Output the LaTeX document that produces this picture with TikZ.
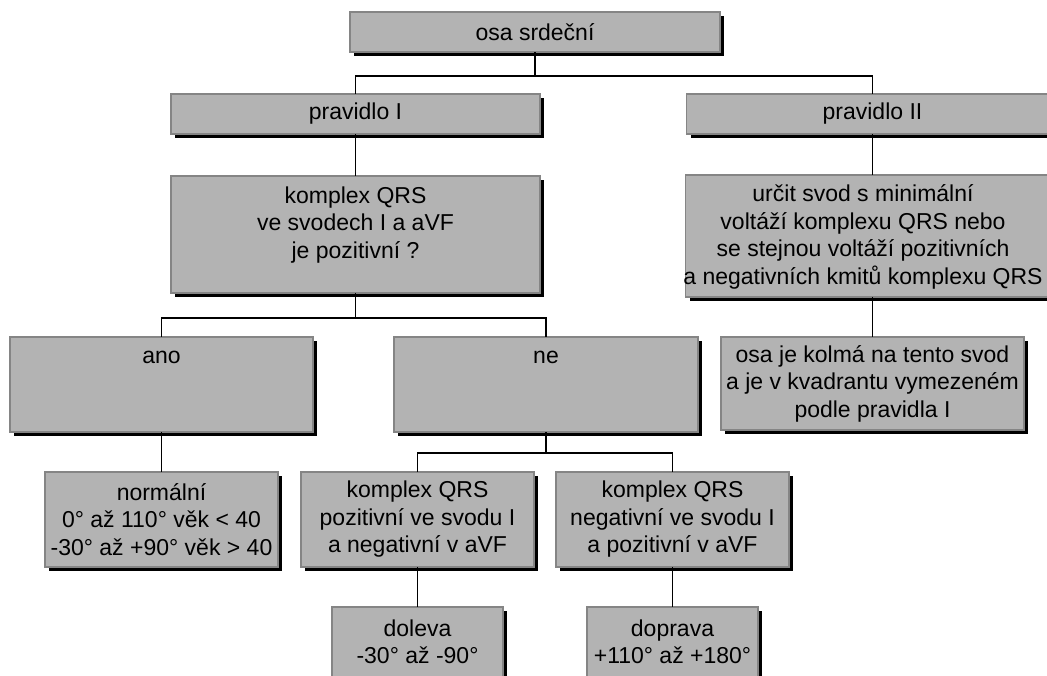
\documentclass[tikz,border=0pt]{standalone}
\usepackage{fontspec}
\setmainfont{Liberation Sans}
\usetikzlibrary{shadows}
\definecolor{boxfill}{HTML}{B3B3B3}
\definecolor{boxline}{HTML}{858585}
\newcommand\boxfont{\fontsize{23}{27.5}\selectfont}
\begin{document}
\begin{tikzpicture}[x=1pt,y=-1pt,
  box/.style={draw=boxline, line width=1.5pt, fill=boxfill, inner sep=0pt, outer sep=0pt,
    align=center, font=\boxfont,
    drop shadow={shadow xshift=4pt, shadow yshift=-4pt, fill=black, opacity=1}},
  lbl/.style={inner sep=0pt, align=center, font=\boxfont},
  conn/.style={draw=black, line width=1.3pt}]
\useasboundingbox (0,0) rectangle (1047,675);
\clip (0,0) rectangle (1047,675);

\node[box, minimum width=370pt, minimum height=40pt] (top) at (535,32) {osa srdeční};
\node[box, minimum width=369pt, minimum height=40pt] (p1) at (355.5,114) {pravidlo I};
\node[box, minimum width=372pt, minimum height=40pt] (p2) at (872.5,114) {pravidlo II};

\node[box, minimum width=369pt, minimum height=117pt] (q) at (355.5,234.5) {};
\node[lbl] (qt) at (355.5,225) {komplex QRS\\ve svodech I a aVF\\je pozitivní ?};

\node[box, minimum width=374pt, minimum height=122pt] (u) at (872.5,236) {};
\node[lbl] (ut) at (863,237)
  {určit svod s minimální\\voltáží komplexu QRS nebo\\se stejnou voltáží pozitivních\\a negativních kmitů komplexu QRS};
\node[box, minimum width=303pt, minimum height=93pt] (k) at (872.5,383.5)
  {osa je kolmá na tento svod\\a je v kvadrantu vymezeném\\podle pravidla I};

\node[box, minimum width=303pt, minimum height=95pt] (ano) at (161.5,384.5) {};
\node[lbl] (anot) at (161.5,357) {ano};
\node[box, minimum width=304pt, minimum height=95pt] (ne) at (546,384.5) {};
\node[lbl] (net) at (546,357) {ne};

\node[box, minimum width=233pt, minimum height=95pt] (n) at (161.5,519.5)
  {normální\\0° až 110° věk < 40\\-30° až +90° věk > 40};
\node[box, minimum width=233pt, minimum height=95pt] (pp) at (417.5,519.5)
  {komplex QRS\\pozitivní ve svodu I\\a negativní v aVF};
\node[box, minimum width=233pt, minimum height=95pt] (np) at (672.5,519.5)
  {komplex QRS\\negativní ve svodu I\\a pozitivní v aVF};

\node[box, minimum width=171pt, minimum height=70pt] (d) at (417.5,642)
  {doleva\\-30° až -90°};
\node[box, minimum width=171pt, minimum height=70pt] (dp) at (672.5,642)
  {doprava\\+110° až +180°};

\coordinate (j1) at (535,76);
\coordinate (j2) at (355.5,318);
\coordinate (j3) at (546,453);

\draw[conn] (top.south) -- (j1);
\draw[conn] (j1) -| (p1.north);
\draw[conn] (j1) -| (p2.north);
\draw[conn] (p1.south) -- (q.north);
\draw[conn] (p2.south) -- (u.north);
\draw[conn] (u.south) -- (k.north);
\draw[conn] (q.south) -- (j2);
\draw[conn] (j2) -| (ano.north);
\draw[conn] (j2) -| (ne.north);
\draw[conn] (ano.south) -- (n.north);
\draw[conn] (ne.south) -- (j3);
\draw[conn] (j3) -| (pp.north);
\draw[conn] (j3) -| (np.north);
\draw[conn] (pp.south) -- (d.north);
\draw[conn] (np.south) -- (dp.north);
\end{tikzpicture}
\end{document}
